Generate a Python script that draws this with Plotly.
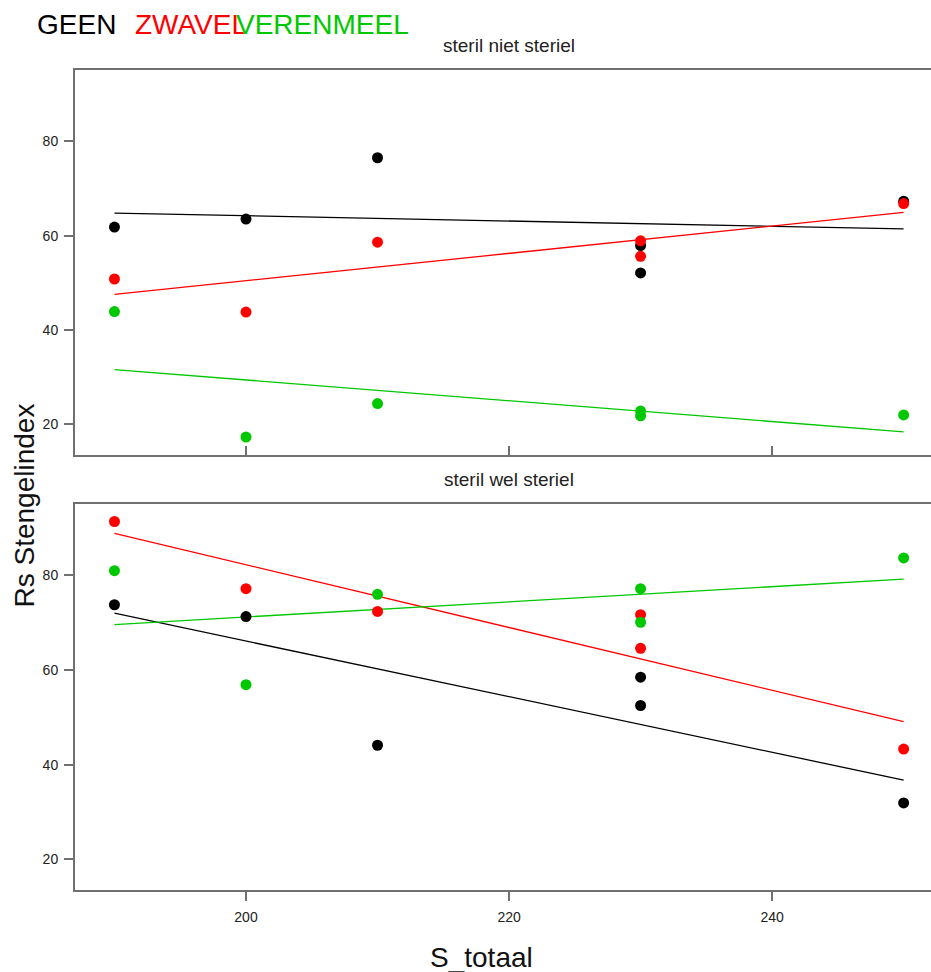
import numpy as np
import plotly.graph_objects as go

# ---- data ----
x_vals = [190, 200, 210, 230, 230, 250]
series_names = ["GEEN", "ZWAVEL", "VERENMEEL"]
series_colors = ["#000000", "#FF0000", "#00C800"]

# panel 1: steril niet steriel
niet_geen = [61.8, 63.5, 76.5, 57.9, 52.1, 67.3]
niet_zwavel = [50.8, 43.8, 58.6, 58.9, 55.6, 66.8]
niet_veren = [43.9, 17.3, 24.4, 22.8, 21.8, 22.0]

# panel 2: steril wel steriel
wel_geen = [73.8, 71.3, 44.1, 58.5, 52.5, 31.9]
wel_zwavel = [91.4, 77.2, 72.4, 71.7, 64.6, 43.3]
wel_veren = [81.0, 56.9, 76.0, 77.2, 70.1, 83.7]

panel_titles = ["steril niet steriel", "steril wel steriel"]
x_ticks = [200, 220, 240]
y_ticks = [20, 40, 60, 80]
x_title = "S_totaal"
y_title = "Rs Stengelindex"

# ---- layout geometry ----
W, H = 931, 972
L, R, T, B = 75, 0, 70, 82
PW, PH = W - L - R, H - T - B


def px(xp):
    return (xp - L) / PW


def py(yp):
    return (H - B - yp) / PH


FONT = "Liberation Sans, Arial, Helvetica, sans-serif"
FRAME = "#707070"

fig = go.Figure()

panels = [
    ("x", "y", [niet_geen, niet_zwavel, niet_veren]),
    ("x2", "y2", [wel_geen, wel_zwavel, wel_veren]),
]

xs = np.array(x_vals, dtype=float)
for xa, ya, groups in panels:
    for name, col, ys in zip(series_names, series_colors, groups):
        ys_arr = np.array(ys, dtype=float)
        slope, icpt = np.polyfit(xs, ys_arr, 1)
        xl = np.array([min(x_vals), max(x_vals)], dtype=float)
        fig.add_trace(go.Scatter(
            x=xl, y=slope * xl + icpt, mode="lines",
            line=dict(color=col, width=1.3), xaxis=xa, yaxis=ya,
            showlegend=False, hoverinfo="skip"))
    for name, col, ys in zip(series_names, series_colors, groups):
        fig.add_trace(go.Scatter(
            x=x_vals, y=ys, mode="markers", name=name,
            marker=dict(color=col, size=11, line=dict(width=0)),
            xaxis=xa, yaxis=ya, showlegend=False))

top_dom = [py(455), 1.0]
bot_dom = [0.0, py(504)]
xr = [187.0, 252.08]
yr = [13.5, 95.1]

common_x = dict(range=xr, tickvals=x_ticks, showline=True, linecolor=FRAME,
                linewidth=2, mirror=True, showgrid=False, zeroline=False,
                tickcolor=FRAME, tickwidth=1.5, ticklen=9,
                tickfont=dict(family=FONT, size=14, color="#222"))
common_y = dict(range=yr, tickvals=y_ticks, showline=True, linecolor=FRAME,
                linewidth=2, mirror=False, showgrid=False, zeroline=False,
                ticks="outside", tickcolor=FRAME, tickwidth=1.5, ticklen=9,
                ticklabelstandoff=3,
                tickfont=dict(family=FONT, size=14, color="#222"))

fig.update_layout(
    width=W, height=H,
    margin=dict(l=L, r=R, t=T, b=B, pad=0),
    paper_bgcolor="white", plot_bgcolor="white",
    showlegend=False,
    xaxis=dict(domain=[0, 1], anchor="y", ticks="inside", showticklabels=False, **common_x),
    yaxis=dict(domain=top_dom, anchor="x", **common_y),
    xaxis2=dict(domain=[0, 1], anchor="y2", ticks="outside", showticklabels=True,
                ticklabelstandoff=4, **common_x),
    yaxis2=dict(domain=bot_dom, anchor="x2", **common_y),
)

ann = []
# legend-like header
hdr_x = [35, 133, 234]
for name, col, hx in zip(series_names, series_colors, hdr_x):
    ann.append(dict(text=name, x=px(hx), y=py(24.8), xref="paper", yref="paper",
                    xanchor="left", yanchor="middle", showarrow=False,
                    font=dict(family=FONT, size=28, color=col)))
# panel titles
for t, yc in zip(panel_titles, [46, 479.8]):
    ann.append(dict(text=t, x=px(509), y=py(yc), xref="paper", yref="paper",
                    xanchor="center", yanchor="middle", showarrow=False,
                    font=dict(family=FONT, size=19, color="#222")))
# axis titles
ann.append(dict(text=x_title, x=px(481.5), y=py(957.5), xref="paper", yref="paper",
                xanchor="center", yanchor="middle", showarrow=False,
                font=dict(family=FONT, size=28, color="#111")))
ann.append(dict(text=y_title, x=px(23.5), y=py(506), xref="paper", yref="paper",
                xanchor="center", yanchor="middle", showarrow=False, textangle=-90,
                font=dict(family=FONT, size=28, color="#111")))
fig.update_layout(annotations=ann)

page_fix = ("document.body.style.margin='0';document.body.style.padding='0';"
            "document.documentElement.style.overflow='hidden';"
            "document.body.style.overflow='hidden';")
fig.write_html("out.html", post_script=page_fix,
               config={"displayModeBar": False, "responsive": False})
